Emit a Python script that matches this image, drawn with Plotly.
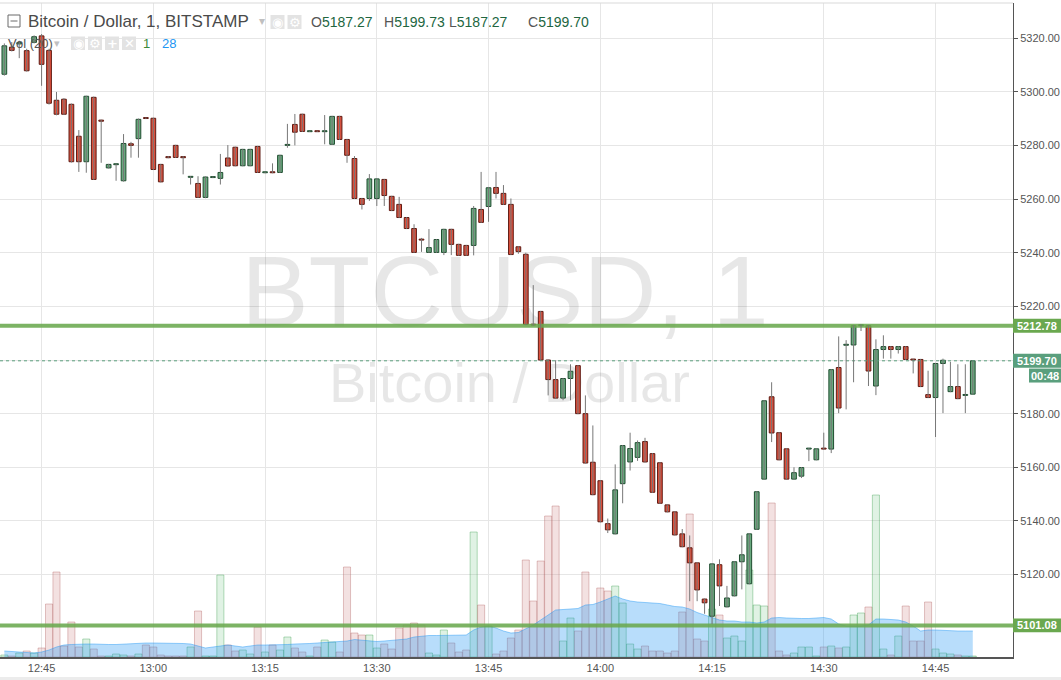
import plotly.graph_objects as go
import pandas as pd

# ---------------- data ----------------
START = "2017-10-20 12:40"

opens = [5306.5, 5316.6, 5317.8, 5315.3, 5318.4, 5320.8, 5315.4, 5296.8, 5297.2, 5295.3,
         5283.4, 5273.9, 5297.9, 5289.4, 5271.6, 5272.8, 5266.8, 5280.6, 5282.5, 5290.2,
         5290.1, 5272.9, 5275.8, 5280.0, 5275.8, 5268.1, 5265.8, 5260.6, 5268.0, 5267.7,
         5275.3, 5279.3, 5272.4, 5272.4, 5279.6, 5269.8, 5270.0, 5269.9, 5280.0, 5287.8,
         5291.6, 5285.1, 5285.3, 5285.1, 5280.4, 5290.8, 5282.2, 5275.1, 5260.2, 5260.2,
         5260.2, 5267.3, 5261.0, 5258.0, 5253.1, 5249.0, 5244.9, 5240.1, 5240.1, 5240.1,
         5248.7, 5243.1, 5242.7, 5242.7, 5256.1, 5257.2, 5264.3, 5262.1, 5258.0, 5242.2,
         5239.4, 5213.3, 5218.1, 5200.0, 5192.7, 5185.8, 5193.1, 5197.9, 5180.0, 5161.9,
         5155.0, 5139.0, 5135.2, 5153.9, 5162.0, 5163.7, 5169.6, 5165.1, 5161.7, 5146.0,
         5143.4, 5135.2, 5130.0, 5124.4, 5110.9, 5104.5, 5123.7, 5108.0, 5112.1, 5124.8,
         5116.6, 5136.9, 5155.6, 5186.3, 5172.9, 5166.9, 5155.6, 5156.7, 5166.8, 5162.8,
         5167.0, 5166.8, 5197.2, 5205.5, 5205.6, 5212.8, 5212.8, 5190.3, 5203.9, 5205.0,
         5203.9, 5205.0, 5200.2, 5200.2, 5187.1, 5186.0, 5198.7, 5188.2, 5190.1, 5186.8,
         5187.27]
highs = [5318.0, 5318.5, 5319.0, 5316.0, 5321.0, 5321.5, 5316.0, 5299.9, 5297.6, 5295.6,
         5285.7, 5298.5, 5298.2, 5289.6, 5273.1, 5273.2, 5284.2, 5281.3, 5290.0, 5290.4,
         5290.3, 5273.1, 5276.0, 5280.2, 5276.0, 5268.5, 5268.5, 5268.4, 5268.4, 5276.8,
         5280.1, 5279.5, 5278.7, 5278.7, 5279.8, 5270.1, 5273.3, 5276.5, 5288.0, 5291.7,
         5291.8, 5285.4, 5285.4, 5291.3, 5291.0, 5291.0, 5282.4, 5276.0, 5260.4, 5269.3,
         5267.7, 5267.5, 5261.2, 5260.8, 5253.3, 5250.6, 5245.5, 5248.8, 5245.1, 5248.9,
         5248.9, 5243.3, 5242.9, 5257.4, 5270.1, 5264.5, 5270.1, 5265.2, 5260.2, 5242.4,
         5240.0, 5227.9, 5218.3, 5200.2, 5199.9, 5193.3, 5198.4, 5198.1, 5186.8, 5175.6,
         5155.2, 5140.9, 5161.1, 5168.3, 5172.9, 5170.0, 5171.0, 5165.3, 5161.9, 5146.2,
         5143.6, 5137.0, 5134.6, 5124.6, 5111.1, 5124.2, 5125.7, 5115.8, 5125.0, 5134.6,
         5135.4, 5151.1, 5185.0, 5191.7, 5173.1, 5167.1, 5160.0, 5160.1, 5167.2, 5167.1,
         5172.9, 5196.6, 5208.8, 5207.4, 5213.0, 5213.3, 5213.0, 5207.7, 5209.2, 5205.2,
         5205.2, 5205.2, 5200.4, 5200.4, 5196.0, 5198.9, 5200.5, 5199.3, 5198.4, 5198.4,
         5199.73]
lows = [5306.0, 5315.0, 5312.5, 5307.5, 5318.0, 5302.2, 5295.2, 5291.2, 5291.3, 5273.6,
        5270.1, 5269.8, 5267.1, 5273.5, 5271.4, 5266.8, 5266.5, 5275.4, 5275.4, 5289.8,
        5270.8, 5266.2, 5275.2, 5275.3, 5269.2, 5265.4, 5260.4, 5260.3, 5267.8, 5265.4,
        5272.1, 5272.2, 5272.2, 5272.2, 5269.7, 5269.6, 5269.6, 5269.7, 5279.1, 5280.0,
        5285.0, 5285.0, 5285.0, 5280.4, 5280.2, 5282.0, 5273.5, 5260.0, 5256.1, 5259.3,
        5257.4, 5257.4, 5255.5, 5252.9, 5248.8, 5239.9, 5240.3, 5239.9, 5239.9, 5239.1,
        5239.1, 5238.8, 5238.8, 5239.0, 5251.1, 5251.5, 5260.2, 5257.8, 5239.1, 5239.6,
        5213.0, 5212.8, 5199.8, 5186.8, 5185.5, 5185.0, 5185.0, 5179.8, 5161.4, 5149.6,
        5139.5, 5135.5, 5135.0, 5146.6, 5158.8, 5162.4, 5161.8, 5150.5, 5146.4, 5143.2,
        5134.6, 5130.2, 5110.1, 5110.1, 5105.4, 5101.6, 5108.3, 5107.8, 5111.9, 5114.5,
        5116.4, 5136.7, 5155.4, 5169.4, 5162.6, 5155.4, 5155.4, 5156.0, 5162.3, 5162.6,
        5166.6, 5165.3, 5180.2, 5181.6, 5191.7, 5210.8, 5190.3, 5186.9, 5200.5, 5200.5,
        5202.4, 5200.0, 5195.0, 5189.9, 5185.8, 5171.3, 5180.2, 5188.0, 5185.4, 5180.2,
        5187.27]
closes = [5317.1, 5315.4, 5318.3, 5307.8, 5320.5, 5310.2, 5295.7, 5291.6, 5291.6, 5273.9,
          5273.9, 5298.3, 5267.3, 5289.0, 5272.9, 5273.0, 5280.7, 5280.0, 5289.7, 5290.0,
          5271.0, 5266.4, 5275.4, 5275.5, 5275.4, 5268.3, 5260.6, 5268.2, 5268.2, 5269.9,
          5272.3, 5272.4, 5278.5, 5278.5, 5269.9, 5270.0, 5269.8, 5276.3, 5280.2, 5284.9,
          5285.2, 5285.3, 5285.1, 5285.3, 5290.8, 5282.2, 5276.3, 5260.2, 5258.0, 5267.5,
          5267.5, 5261.3, 5255.7, 5253.1, 5249.0, 5240.1, 5244.7, 5241.9, 5244.9, 5248.7,
          5243.1, 5239.0, 5239.0, 5256.5, 5251.3, 5264.2, 5262.1, 5258.0, 5239.3, 5240.4,
          5213.2, 5213.0, 5200.0, 5192.7, 5185.8, 5193.1, 5195.8, 5180.0, 5161.6, 5149.8,
          5139.7, 5136.7, 5151.6, 5168.1, 5167.0, 5169.2, 5162.0, 5150.7, 5146.6, 5143.4,
          5134.8, 5130.4, 5124.4, 5114.3, 5109.5, 5124.0, 5115.8, 5111.3, 5124.8, 5127.4,
          5135.2, 5150.9, 5184.8, 5172.8, 5162.8, 5155.6, 5158.0, 5159.9, 5167.0, 5166.9,
          5166.8, 5196.4, 5182.1, 5205.7, 5212.8, 5213.0, 5195.9, 5203.9, 5205.0, 5203.9,
          5205.0, 5200.2, 5200.0, 5190.1, 5186.0, 5198.7, 5199.9, 5190.1, 5185.6, 5187.0,
          5199.70]
volumes = [2, 1, 4, 6, 4, 9, 53, 85, 11, 35,
           10, 18, 8, 1, 1, 3, 2, 1, 3, 12,
           10, 2, 1, 1, 1, 10, 46, 1, 1, 82,
           12, 6, 7, 3, 30, 5, 12, 7, 20, 9,
           5, 1, 10, 17, 15, 5, 90, 24, 22, 22,
           9, 13, 8, 29, 32, 34, 32, 4, 2, 27,
           14, 5, 7, 125, 52, 31, 3, 6, 19, 27,
           97, 56, 96, 141, 151, 16, 39, 26, 85, 32,
           69, 66, 71, 54, 13, 8, 11, 6, 6, 4,
           6, 45, 143, 18, 16, 48, 42, 19, 21, 16,
           87, 52, 51, 154, 6, 2, 4, 10, 10, 1,
           10, 11, 9, 10, 42, 44, 50, 162, 8, 2,
           21, 51, 16, 16, 55, 8, 4, 3, 2, 1,
           1]
vol_ma = [6, 5.5, 5, 4.5, 4, 5, 7, 10, 12, 12.5,
          13, 13, 13, 12.5, 12.5, 12.5, 13, 13, 13.5, 14,
          14, 14, 14, 14, 13.5, 13, 11, 9, 10, 11,
          12, 11, 10, 11, 12, 12, 12, 12, 12.5, 13,
          13, 13.5, 14, 14.5, 15, 15, 16, 17.5, 17, 16,
          15.5, 16, 16.5, 17.5, 18, 20, 21, 21.5, 21.5, 21.5,
          21.5, 21.5, 22, 27, 30, 31, 29, 26, 24, 24.5,
          28, 32, 37, 42, 47, 47.5, 48, 48.5, 52, 52.5,
          55, 58, 61, 58, 56, 55, 54.5, 54, 53.5, 52,
          50.5, 50, 48, 44.5, 42, 39, 37, 36, 36, 35,
          35, 34, 35, 39, 39.5, 39, 38.5, 38.5, 38.5, 39,
          39.5, 38, 33, 31, 31, 31, 32, 38, 38, 37.5,
          37, 35, 31, 26, 27, 27, 26.5, 26, 26, 26,
          26]
time_ticks = ["12:45", "13:00", "13:15", "13:30", "13:45", "14:00", "14:15", "14:30", "14:45"]
price_ticks = [5120, 5140, 5160, 5180, 5200, 5220, 5240, 5260, 5280, 5300, 5320]
hidden_price_ticks = [5200]          # covered by the last-price label in the original
levels = [5212.78, 5101.08]
last_price = 5199.70
countdown = "00:48"
ohlc_text = [("O", "5187.27"), ("H", "5199.73"), ("L", "5187.27"), ("C", "5199.70")]
vol_legend = ("1", "28")

# ---------------- geometry helpers ----------------
W, H = 1061, 680
L_, R_, T_, B_ = 0, 48, 3, 23
PW, PH = W - L_ - R_, H - T_ - B_
PRICE_RANGE = [5089.3, 5333.06]
VOL_RANGE = [0, PH]


def pxx(x):
    return (x - L_) / PW


def pxy(y):
    return (H - B_ - y) / PH


times = pd.date_range(START, periods=len(opens), freq="min")
t0 = times[0]
fmt = "%Y-%m-%d %H:%M:%S"
tstr = [t.strftime(fmt) for t in times]
x_range = [(t0 - pd.Timedelta(seconds=34.6)).strftime(fmt),
           (t0 + pd.Timedelta(minutes=135.4)).strftime(fmt)]
day = t0.strftime("%Y-%m-%d")
tickvals = [f"{day} {t}:00" for t in time_ticks]

UP, DN = "#68a87d", "#db4f3c"
UP_LN, DN_LN = "#1f4d30", "#5e1a12"
is_up = [c >= o for o, c in zip(opens, closes)]

FONT = "Liberation Sans, Arial, sans-serif"

fig = go.Figure()

# watermark (bottom layer)
fig.add_trace(go.Scatter(
    x=[(t0 + pd.Timedelta(minutes=67.2)).strftime(fmt), (t0 + pd.Timedelta(minutes=67.8)).strftime(fmt)],
    y=[356, 269], yaxis="y", mode="text",
    text=["BTCUSD, 1", "Bitcoin / Dollar"],
    textfont=dict(family=FONT, size=[101, 56], color="rgba(0,0,0,0.095)"),
    textposition="middle center", hoverinfo="skip"))

# volume bars
fig.add_trace(go.Bar(
    x=tstr, y=volumes, yaxis="y", width=57000,
    marker=dict(color=["rgba(100,190,120,0.2)" if u else "rgba(205,130,130,0.24)" for u in is_up],
                line=dict(color=["rgba(60,160,80,0.38)" if u else "rgba(180,100,100,0.38)" for u in is_up],
                          width=1)),
    hoverinfo="skip"))

# volume MA area
fig.add_trace(go.Scatter(
    x=tstr, y=vol_ma, yaxis="y", mode="lines", fill="tozeroy",
    line=dict(color="rgba(33,150,243,0.45)", width=1),
    fillcolor="rgba(33,150,243,0.32)", hoverinfo="skip"))

# horizontal levels (over volume, under candles)
for lv in levels:
    fig.add_trace(go.Scatter(x=x_range, y=[lv, lv], yaxis="y2", mode="lines",
                             line=dict(color="rgba(106,168,79,0.88)", width=4), hoverinfo="skip"))
fig.add_trace(go.Scatter(x=x_range, y=[last_price, last_price], yaxis="y2", mode="lines",
                         line=dict(color="#5a9f7d", width=1, dash="dot"), hoverinfo="skip"))

# wicks
wx, wy = [], []
for t, lo, hi in zip(tstr, lows, highs):
    wx += [t, t, None]
    wy += [lo, hi, None]
fig.add_trace(go.Scatter(x=wx, y=wy, yaxis="y2", mode="lines",
                         line=dict(color="#777777", width=1), hoverinfo="skip"))

# candle bodies
fig.add_trace(go.Bar(
    x=tstr,
    y=[max(abs(c - o), 0.35) for o, c in zip(opens, closes)],
    base=[min(o, c) for o, c in zip(opens, closes)],
    yaxis="y2", width=38000,
    marker=dict(color=[UP if u else DN for u in is_up],
                line=dict(color=[UP_LN if u else DN_LN for u in is_up], width=1)),
    hoverinfo="skip"))

shapes = []
annotations = []

# top border
shapes.append(dict(type="line", xref="paper", yref="paper", x0=0, x1=1, y0=1, y1=1,
                   line=dict(color="#d9d9d9", width=1)))
# bottom band
shapes.append(dict(type="rect", xref="paper", yref="paper", x0=0, x1=W / PW,
                   y0=pxy(680), y1=pxy(677), fillcolor="#ececec", line=dict(width=0)))

# price axis labels
AX0, AX1 = 1.0, W / PW
box_h = 2.6
label_boxes = [(levels[0], "#6aa84f", f"{levels[0]:.2f}"),
               (last_price, "#5a9f7d", f"{last_price:.2f}"),
               (levels[1], "#6aa84f", f"{levels[1]:.2f}")]
for val, col, txt in label_boxes:
    shapes.append(dict(type="rect", xref="paper", yref="y2", x0=AX0, x1=AX1,
                       y0=val - box_h, y1=val + box_h, fillcolor=col, line=dict(width=0), layer="above"))
    annotations.append(dict(xref="paper", yref="y2", x=pxx(1037), y=val, text=f"<b>{txt}</b>",
                            showarrow=False, xanchor="center", yanchor="middle",
                            font=dict(family=FONT, size=11, color="white")))
cd_top = last_price - box_h - 0.3
cd_bot = cd_top - 2 * box_h
shapes.append(dict(type="rect", xref="paper", yref="y2", x0=pxx(1029), x1=AX1,
                   y0=cd_bot, y1=cd_top, fillcolor="#5a9f7d", line=dict(width=0), layer="above"))
annotations.append(dict(xref="paper", yref="y2", x=pxx(1045), y=(cd_top + cd_bot) / 2,
                        text=f"<b>{countdown}</b>", showarrow=False, xanchor="center", yanchor="middle",
                        font=dict(family=FONT, size=11, color="white")))

# header line 1
shapes.append(dict(type="rect", xref="paper", yref="paper", x0=pxx(8), x1=pxx(20), y0=pxy(27), y1=pxy(15),
                   line=dict(color="#6b6b6b", width=1), fillcolor="rgba(0,0,0,0)", layer="above"))
shapes.append(dict(type="line", xref="paper", yref="paper", x0=pxx(10.5), x1=pxx(17.5), y0=pxy(21), y1=pxy(21),
                   line=dict(color="#6b6b6b", width=1), layer="above"))
annotations.append(dict(xref="paper", yref="paper", x=pxx(26), y=pxy(21.5), text="Bitcoin / Dollar, 1, BITSTAMP",
                        showarrow=False, xanchor="left", yanchor="middle",
                        font=dict(family=FONT, size=17, color="#4a4a4a")))
annotations.append(dict(xref="paper", yref="paper", x=pxx(262), y=pxy(21), text="▾",
                        showarrow=False, xanchor="center", yanchor="middle",
                        font=dict(family="DejaVu Sans", size=12, color="#c0c0c0")))
for (x0, x1), g in zip([(270.5, 284.5), (287.5, 301.5)], ["◉", "⚙"]):
    shapes.append(dict(type="rect", xref="paper", yref="paper", x0=pxx(x0), x1=pxx(x1), y0=pxy(29), y1=pxy(15),
                       fillcolor="#e3e3e3", line=dict(width=0), layer="above"))
    annotations.append(dict(xref="paper", yref="paper", x=pxx((x0 + x1) / 2), y=pxy(22), text=g,
                            showarrow=False, xanchor="center", yanchor="middle",
                            font=dict(family="DejaVu Sans", size=13, color="white")))
for (lab, val), xl in zip(ohlc_text, [310, 383, 448, 527]):
    annotations.append(dict(xref="paper", yref="paper", x=pxx(xl - 1), y=pxy(21.5),
                            text=f"<span style='color:#555555'>{lab}</span>{val}",
                            showarrow=False, xanchor="left", yanchor="middle",
                            font=dict(family=FONT, size=14, color="#22663f")))

# header line 2 (volume legend)
annotations.append(dict(xref="paper", yref="paper", x=pxx(6), y=pxy(43.5), text="Vol (20)",
                        showarrow=False, xanchor="left", yanchor="middle",
                        font=dict(family=FONT, size=13, color="#555555")))
annotations.append(dict(xref="paper", yref="paper", x=pxx(57), y=pxy(43), text="▾",
                        showarrow=False, xanchor="center", yanchor="middle",
                        font=dict(family="DejaVu Sans", size=11, color="#c0c0c0")))
for (x0, x1), g in zip([(71, 85), (88, 102), (105, 119), (122, 136)], ["◉", "⚙", "+", "✕"]):
    shapes.append(dict(type="rect", xref="paper", yref="paper", x0=pxx(x0), x1=pxx(x1), y0=pxy(50), y1=pxy(36.5),
                       fillcolor="#e3e3e3", line=dict(width=0), layer="above"))
    annotations.append(dict(xref="paper", yref="paper", x=pxx((x0 + x1) / 2), y=pxy(43.3), text=f"<b>{g}</b>",
                            showarrow=False, xanchor="center", yanchor="middle",
                            font=dict(family="DejaVu Sans", size=13, color="white")))
annotations.append(dict(xref="paper", yref="paper", x=pxx(146), y=pxy(43.5), text=vol_legend[0],
                        showarrow=False, xanchor="center", yanchor="middle",
                        font=dict(family=FONT, size=13, color="#3a8a3a")))
annotations.append(dict(xref="paper", yref="paper", x=pxx(160), y=pxy(43.5), text=vol_legend[1],
                        showarrow=False, xanchor="left", yanchor="middle",
                        font=dict(family=FONT, size=13, color="#2196f3")))

fig.update_layout(
    width=W, height=H,
    margin=dict(l=L_, r=R_, t=T_, b=B_, pad=0),
    paper_bgcolor="white", plot_bgcolor="white",
    showlegend=False, barmode="overlay",
    font=dict(family=FONT, size=11, color="#555555"),
    xaxis=dict(type="date", range=x_range, tickvals=tickvals, ticktext=time_ticks,
               showgrid=True, gridcolor="#e6e6e6", gridwidth=1,
               showline=True, linecolor="#555555", linewidth=1.5, ticks="",
               tickfont=dict(family=FONT, size=11, color="#555555"), zeroline=False, fixedrange=True),
    yaxis=dict(range=VOL_RANGE, visible=False, showgrid=False, zeroline=False, fixedrange=True),
    yaxis2=dict(range=PRICE_RANGE, overlaying="y", side="right",
                tickvals=price_ticks,
                ticktext=["" if p in hidden_price_ticks else f"{p:.2f}" for p in price_ticks],
                showgrid=True, gridcolor="#e6e6e6", gridwidth=1,
                showline=True, linecolor="#555555", linewidth=1,
                ticks="outside", ticklen=4, tickcolor="#555555",
                tickfont=dict(family=FONT, size=11, color="#555555"), zeroline=False, fixedrange=True),
    shapes=shapes, annotations=annotations,
    hovermode=False,
)

fig.write_html("out.html", config={"displayModeBar": False},
               post_script="document.body.style.margin='0px';document.body.style.overflow='hidden';")
